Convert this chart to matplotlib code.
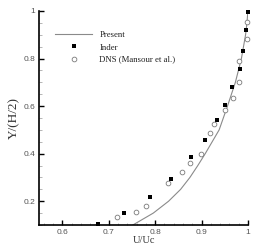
import matplotlib
matplotlib.use("Agg")
import matplotlib.pyplot as plt
from matplotlib.ticker import MultipleLocator

# Present (solid line)
present_u = [0.752, 0.774, 0.796, 0.829, 0.855, 0.875, 0.892, 0.908, 0.923, 0.938,
             0.956, 0.973, 0.986, 0.995, 0.998, 1.0]
present_y = [0.1, 0.125, 0.15, 0.2, 0.25, 0.3, 0.35, 0.4, 0.45, 0.5,
             0.6, 0.7, 0.8, 0.9, 0.95, 1.0]

# Inder (filled squares)
inder_u = [1.0, 0.9956, 0.9905, 0.982, 0.965, 0.95, 0.933, 0.908, 0.877, 0.835, 0.789, 0.732, 0.676]
inder_y = [0.997, 0.92, 0.832, 0.757, 0.68, 0.604, 0.541, 0.457, 0.388, 0.295, 0.218, 0.151, 0.103]

# DNS (Mansour et al.) (open circles)
dns_u = [0.9985, 0.998, 0.981, 0.98, 0.968, 0.951, 0.926, 0.919, 0.898, 0.875, 0.858, 0.828, 0.781, 0.759, 0.717]
dns_y = [0.952, 0.884, 0.791, 0.702, 0.635, 0.582, 0.523, 0.485, 0.398, 0.36, 0.325, 0.277, 0.179, 0.155, 0.134]

fig = plt.figure(figsize=(2.68, 2.50), dpi=100)
ax = fig.add_axes([0.146, 0.10, 0.779, 0.856])

ax.plot(present_u, present_y, '-', color='#8a8a8a', lw=0.8, label='Present')
ax.plot(inder_u, inder_y, 's', color='black', ms=2.4, mew=0, label='Inder', clip_on=False)
ax.plot(dns_u, dns_y, 'o', mfc='white', mec='#7a7a7a', ms=3.4, mew=0.6,
        label='DNS (Mansour et al.)', clip_on=False)

ax.set_xlim(0.55, 1.0)
ax.set_ylim(0.1, 1.0)
ax.xaxis.set_major_locator(MultipleLocator(0.1))
ax.xaxis.set_minor_locator(MultipleLocator(0.02))
ax.yaxis.set_major_locator(MultipleLocator(0.2))
ax.yaxis.set_minor_locator(MultipleLocator(0.05))
ax.set_xticks([0.6, 0.7, 0.8, 0.9, 1.0])
ax.set_xticklabels(['0.6', '0.7', '0.8', '0.9', '1'])
ax.set_yticks([0.2, 0.4, 0.6, 0.8, 1.0])
ax.set_yticklabels(['0.2', '0.4', '0.6', '0.8', '1'])

for s in ['top', 'right']:
    ax.spines[s].set_visible(False)
for s in ['left', 'bottom']:
    ax.spines[s].set_linewidth(1.2)

ax.tick_params(which='major', direction='in', length=3.5, width=1.0,
               labelsize=6, labelcolor='#555555', pad=3)
ax.tick_params(which='minor', direction='in', length=1.8, width=0.5, color='#999999')
for lab in ax.get_xticklabels() + ax.get_yticklabels():
    lab.set_family('Liberation Sans')

ax.set_xlabel('U/Uc', family='Liberation Serif', fontsize=7.5, color='#333333', labelpad=0)
ax.set_ylabel('Y/(H/2)', family='Liberation Serif', fontsize=9.5, color='#333333', labelpad=2)

leg = ax.legend(loc='upper left', bbox_to_anchor=(0.075, 0.905), frameon=False,
                prop={'family': 'Liberation Serif', 'size': 6.3},
                handlelength=4.3, handletextpad=0.8, labelspacing=0.45, borderpad=0,
                borderaxespad=0)
for t in leg.get_texts():
    t.set_color('#222222')

fig.savefig('out.png', dpi=100)
